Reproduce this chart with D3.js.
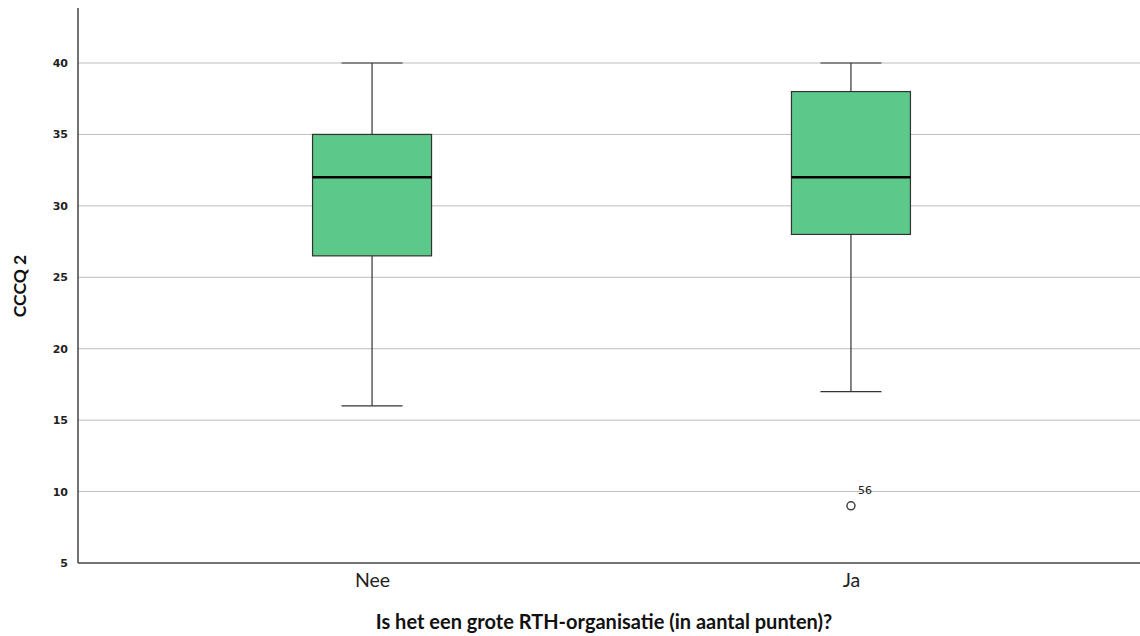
<!DOCTYPE html>
<html>
<head>
<meta charset="utf-8">
<script src="https://cdn.jsdelivr.net/npm/d3@7"></script>
<style>
  html, body { margin: 0; padding: 0; background: #fff; }
  svg { display: block; }
</style>
</head>
<body>
<svg id="chart" width="1140" height="636"></svg>
<script>
// Box-plot summaries per group
const categories = ["Nee", "Ja"];
const whiskerLow = [16, 17];
const q1 = [26.5, 28];
const median = [32, 32];
const q3 = [35, 38];
const whiskerHigh = [40, 40];
const outlierGroup = ["Ja"];
const outlierValue = [9];
const outlierCase = ["56"];
const yTicks = [5, 10, 15, 20, 25, 30, 35, 40];

const svg = d3.select("#chart");
const plotLeft = 78, plotRight = 1145, plotTop = 8, plotBottom = 563;

const y = d3.scaleLinear().domain([5, 43.85]).range([plotBottom, plotTop]);
const x = d3.scalePoint().domain(categories).range([plotLeft, plotRight]).padding(0.614);

const boxW = 119, capW = 61;

// gridlines
svg.append("g").selectAll("line").data(yTicks.filter(t => t > 5)).join("line")
  .attr("x1", plotLeft).attr("x2", 1140)
  .attr("y1", d => y(d)).attr("y2", d => y(d))
  .attr("stroke", "#bdbdbd").attr("stroke-width", 1);

// y axis
const yAxis = svg.append("g").attr("transform", `translate(${plotLeft},0)`)
  .call(d3.axisLeft(y).tickValues(yTicks).tickSize(0).tickPadding(10));
yAxis.select(".domain").remove();
yAxis.selectAll("text")
  .attr("font-family", "DejaVu Sans, sans-serif")
  .attr("font-size", 11).attr("font-weight", "bold").attr("fill", "#222");

// x axis labels
const xAxis = svg.append("g").attr("transform", `translate(0,${plotBottom})`)
  .call(d3.axisBottom(x).tickSize(0).tickPadding(10));
xAxis.select(".domain").remove();
xAxis.selectAll("text")
  .attr("font-family", "Lato, 'Open Sans', sans-serif")
  .attr("font-size", 19.5).attr("fill", "#222");

// axis lines
svg.append("line").attr("x1", plotLeft).attr("x2", plotLeft).attr("y1", plotTop).attr("y2", plotBottom)
  .attr("stroke", "#444").attr("stroke-width", 1.5);
svg.append("line").attr("x1", plotLeft).attr("x2", 1140).attr("y1", plotBottom).attr("y2", plotBottom)
  .attr("stroke", "#444").attr("stroke-width", 1.5);

// boxes
const rows = categories.map((c, i) => ({
  c, lo: whiskerLow[i], q1: q1[i], med: median[i], q3: q3[i], hi: whiskerHigh[i]
}));
const g = svg.append("g").selectAll("g").data(rows).join("g")
  .attr("transform", d => `translate(${x(d.c)},0)`);

g.append("line").attr("x1", 0).attr("x2", 0)
  .attr("y1", d => y(d.hi)).attr("y2", d => y(d.q3))
  .attr("stroke", "#333").attr("stroke-width", 1.2);
g.append("line").attr("x1", 0).attr("x2", 0)
  .attr("y1", d => y(d.q1)).attr("y2", d => y(d.lo))
  .attr("stroke", "#333").attr("stroke-width", 1.2);
g.append("line").attr("x1", -capW / 2).attr("x2", capW / 2)
  .attr("y1", d => y(d.hi)).attr("y2", d => y(d.hi))
  .attr("stroke", "#333").attr("stroke-width", 1.2);
g.append("line").attr("x1", -capW / 2).attr("x2", capW / 2)
  .attr("y1", d => y(d.lo)).attr("y2", d => y(d.lo))
  .attr("stroke", "#333").attr("stroke-width", 1.2);
g.append("rect")
  .attr("x", -boxW / 2).attr("width", boxW)
  .attr("y", d => y(d.q3)).attr("height", d => y(d.q1) - y(d.q3))
  .attr("fill", "#5cc98a").attr("stroke", "#333").attr("stroke-width", 1.2);
g.append("line").attr("x1", -boxW / 2).attr("x2", boxW / 2)
  .attr("y1", d => y(d.med)).attr("y2", d => y(d.med))
  .attr("stroke", "#000").attr("stroke-width", 2.5);

// outliers
const outliers = outlierGroup.map((c, i) => ({ c, v: outlierValue[i], id: outlierCase[i] }));
svg.append("g").selectAll("circle").data(outliers).join("circle")
  .attr("cx", d => x(d.c)).attr("cy", d => y(d.v)).attr("r", 4)
  .attr("fill", "#fff").attr("stroke", "#444").attr("stroke-width", 1.5);
svg.append("g").selectAll("text").data(outliers).join("text")
  .attr("x", d => x(d.c) + 7).attr("y", d => y(d.v) - 12)
  .attr("font-family", "DejaVu Sans, sans-serif").attr("font-size", 11)
  .attr("fill", "#222").text(d => d.id);

// axis titles
svg.append("text").attr("x", 604).attr("y", 629)
  .attr("text-anchor", "middle")
  .attr("font-family", "Lato, 'Open Sans', sans-serif")
  .attr("font-size", 20).attr("font-weight", "bold").attr("fill", "#111")
  .text("Is het een grote RTH-organisatie (in aantal punten)?");
svg.append("text")
  .attr("transform", "translate(26,286) rotate(-90)")
  .attr("text-anchor", "middle")
  .attr("font-family", "Lato, 'Open Sans', sans-serif")
  .attr("font-size", 17.5).attr("font-weight", "bold").attr("fill", "#111")
  .text("CCCQ 2");
</script>
</body>
</html>
